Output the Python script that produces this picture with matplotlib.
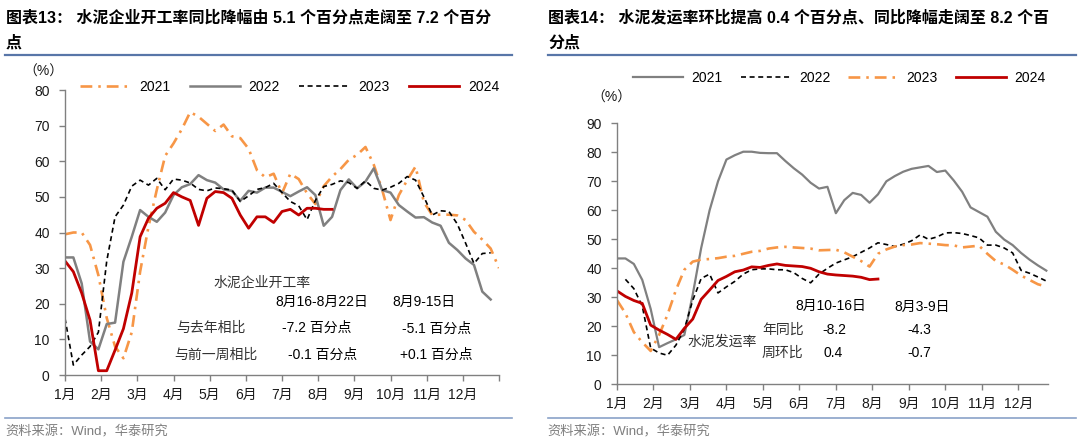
import numpy as np
import matplotlib
matplotlib.use('Agg')
import matplotlib.pyplot as plt

plt.rcParams['font.family'] = ['Liberation Sans', 'Noto Sans CJK SC']
plt.rcParams['lines.scale_dashes'] = False
plt.rcParams['axes.unicode_minus'] = False

months = ['1月', '2月', '3月', '4月', '5月', '6月', '7月', '8月', '9月', '10月', '11月', '12月']

# ---- Left chart: cement enterprise operating rate (%), weekly ----
left_2021 = [39.5, 40, 40, 36.5, 28, 16, 8, 4.7, 12, 29, 41.6, 52, 61.5, 65, 69, 73.8, 72.5, 70.5, 68.5, 70.3,
             67, 66.5, 63.5, 57.5, 55.5, 56.5, 51, 56.5, 55, 51, 48, 53, 55.7, 57.8, 60.4, 61.8, 64, 59, 52, 43.5,
             50.5, 54.7, 58.5, 48.5, 44.9, 45, 45, 44.8, 43.5, 40.2, 38, 35.5, 30]
left_2022 = [33, 33, 25.7, 9.4, 7.2, 14.3, 14.7, 31.8, 38.8, 46.3, 44.4, 43, 45.6, 50.5, 52.7, 53.6, 56.1, 54.7, 54, 52.1,
             51.7, 48.9, 51.7, 51.2, 52.6, 52.6, 51.4, 50.2, 51.5, 52.7, 50.5, 41.9, 44.4, 51.9, 54.9, 52.4, 54.3, 58, 51.9, 51.2,
             47.7, 45.9, 44.2, 44.3, 42.8, 41.9, 37.1, 35.1, 32.7, 30.9, 23.4, 21.2]
left_2023 = [15.9, 2.8, 5.6, 8, 12, 32, 44.4, 47.7, 53, 54.7, 53.3, 55.2, 52, 55, 54.7, 53.9, 52.1, 51.7, 52.5, 52.3,
             51.9, 48.7, 50.3, 52.1, 52.6, 53.8, 51.2, 48.7, 47.5, 43.6, 49, 52.9, 53.5, 54.5, 54, 52.4, 54.5, 52.4, 51.9, 52.7,
             53.8, 55.7, 54.7, 50, 44.9, 46.1, 45.9, 42.4, 37, 31.3, 34.1, 34.3]
left_2024 = [32, 29, 23, 15.4, 1.2, 1.2, 7, 13, 23, 38.8, 44, 46.8, 48.2, 51.2, 50, 49, 42, 49.6, 51.5, 51.2,
             49.6, 44.9, 41.2, 44.4, 44.4, 42.8, 45.9, 46.5, 44.9, 46.8, 46.8, 46.5, 46.5]

# ---- Right chart: cement shipment rate (%), weekly ----
right_2021 = [43.4, 43.4, 41.5, 36, 26, 12.8, 14.2, 15.5, 17, 31, 47, 60, 70, 77.5, 79, 80.2, 80.2, 79.8, 79.7, 79.7,
              77, 74.5, 72.3, 69.5, 67.5, 68.1, 59, 63.5, 66, 65.3, 62.6, 65.5, 70, 71.8, 73.3, 74.3, 74.8, 75.3, 73.2, 73.7,
              70.3, 66.4, 61, 59.4, 57.8, 52.6, 49.9, 48, 45.3, 43, 41, 39.2]
right_2022 = [np.nan, 36.2, 33, 27, 12.5, 10.8, 10, 13.5, 19, 29, 36.5, 38, 31.5, 33.6, 35.5, 38, 39.5, 39.8, 39.8, 39.5,
              39.5, 38.5, 36.5, 35, 38, 40, 41.8, 42.9, 44, 45.5, 47, 48.8, 48.2, 47.5, 48.3, 49.5, 51.5, 50, 50.8, 52.2,
              52.3, 52, 51.3, 50.5, 48, 48, 47, 45.3, 39.3, 38.3, 37, 35.6]
right_2023 = [29, 24.5, 18, 14.5, 11.5, 17, 24, 32.5, 39.5, 42.3, 43, 43.2, 43.5, 44, 44.3, 45, 45.7, 46, 46.8, 47.2,
              47.4, 47.2, 47, 46.8, 46.2, 46.3, 46.4, 45.5, 44, 42.5, 40.6, 45, 46.5, 47.5, 48, 48.2, 48.7, 48.5, 48.3, 48,
              47.9, 47.2, 47.5, 47.8, 45, 42.5, 41.3, 39.5, 37.5, 36, 34.5, 33.7]
right_2024 = [32.2, 30.3, 28.9, 27.9, 20.4, 18.7, 17.2, 15.5, 19.3, 22.5, 29.3, 32.5, 35.8, 37.2, 38.8, 39.4, 40.5, 40.3, 41, 41.5,
              41, 40.8, 40.6, 40, 38.8, 38, 37.7, 37.5, 37.3, 36.9, 36.1, 36.3]

ORANGE = '#F79646'
GRAY = '#808080'
RED = '#C00000'
BLACK = '#000000'
DASHDOT = (0, (8.5, 4.3, 1.8, 4.3))
DASHED = (0, (3.6, 2.6))

W, H = 1080, 444
fig = plt.figure(figsize=(W / 100, H / 100), dpi=100)


def fx(px):
    return px / W


def fy(py):
    return 1 - py / H


def style(ax, ymax, step):
    for s in ['top', 'right']:
        ax.spines[s].set_visible(False)
    for s in ['left', 'bottom']:
        ax.spines[s].set_color('#808080')
        ax.spines[s].set_linewidth(1)
    ax.tick_params(axis='both', colors='#808080', labelcolor='#1a1a1a', labelsize=10,
                   length=4, width=1, direction='out')
    ax.tick_params(axis='y', pad=7)
    ax.tick_params(axis='x', pad=5)
    ax.set_ylim(0, ymax)
    ax.set_yticks(range(0, ymax + 1, step))
    ax.patch.set_alpha(0)


wk_per_month = 52 / 12

# ---------------- Left axes ----------------
axL = fig.add_axes([fx(65), fy(375), fx(499) - fx(65), fy(90) - fy(375)])
style(axL, 80, 10)
l1, = axL.plot(np.arange(len(left_2021)), left_2021, color=ORANGE, lw=1.9, linestyle=DASHDOT)
l2, = axL.plot(np.arange(len(left_2022)), left_2022, color=GRAY, lw=1.8)
l3, = axL.plot(np.arange(len(left_2023)), left_2023, color=BLACK, lw=1.2, linestyle=DASHED)
l4, = axL.plot(np.arange(len(left_2024)), left_2024, color=RED, lw=2.0)
axL.set_xlim(0, 52)
axL.set_xticks([m * wk_per_month for m in range(13)])
axL.set_xticklabels(months + [''])
axL.legend([l1, l2, l3, l4], ['2021', '2022', '2023', '2024'], loc='center left',
           bbox_to_anchor=(fx(80), fy(87)), bbox_transform=fig.transFigure, ncol=4,
           frameon=False, fontsize=10, handlelength=3.6, handletextpad=0.65,
           columnspacing=1.4, borderpad=0, borderaxespad=0)

# ---------------- Right axes ----------------
axR = fig.add_axes([fx(617), fy(384.3), fx(1048) - fx(617), fy(123.3) - fy(384.3)])
style(axR, 90, 10)
r1, = axR.plot(np.arange(len(right_2021)), right_2021, color=GRAY, lw=1.6)
r2, = axR.plot(np.arange(len(right_2022)), right_2022, color=BLACK, lw=1.2, linestyle=DASHED)
r3, = axR.plot(np.arange(len(right_2023)), right_2023, color=ORANGE, lw=1.9, linestyle=DASHDOT)
r4, = axR.plot(np.arange(len(right_2024)), right_2024, color=RED, lw=2.0)
axR.set_xlim(0, 51.2)
axR.set_xticks([m * wk_per_month for m in range(12)])
axR.set_xticklabels(months)
axR.legend([r1, r2, r3, r4], ['2021', '2022', '2023', '2024'], loc='center left',
           bbox_to_anchor=(fx(633), fy(78)), bbox_transform=fig.transFigure, ncol=4,
           frameon=False, fontsize=10, handlelength=3.6, handletextpad=0.6,
           columnspacing=1.3, borderpad=0, borderaxespad=0)

# ---------------- Titles and rules ----------------
tkw = dict(fontsize=11.5, fontweight='bold', color='#000000', va='center', ha='left')
fig.text(fx(6), fy(18), '图表13： 水泥企业开工率同比降幅由 5.1 个百分点走阔至 7.2 个百分', **tkw)
fig.text(fx(6), fy(43), '点', **tkw)
fig.text(fx(548), fy(18), '图表14： 水泥发运率环比提高 0.4 个百分点、同比降幅走阔至 8.2 个百', **tkw)
fig.text(fx(548), fy(43), '分点', **tkw)

for x0, x1 in [(5, 512), (548, 1076)]:
    fig.add_artist(plt.Line2D([fx(x0), fx(x1)], [fy(55), fy(55)], color='#5876A8', lw=1.6,
                              transform=fig.transFigure))
    fig.add_artist(plt.Line2D([fx(x0), fx(x1)], [fy(418), fy(418)], color='#8AA2C8', lw=1.2,
                              transform=fig.transFigure))

skw = dict(fontsize=9.5, color='#7f7f7f', va='center', ha='left')
fig.text(fx(5), fy(432), '资料来源：Wind，华泰研究', **skw)
fig.text(fx(547), fy(432), '资料来源：Wind，华泰研究', **skw)

ukw = dict(fontsize=10, color='#1a1a1a', va='center', ha='center')
fig.text(fx(43), fy(72), '（%）', **ukw)
fig.text(fx(611), fy(98), '（%）', **ukw)

# ---------------- Annotations ----------------
akw = dict(fontsize=10, color='#333333', va='center', ha='left')
nkw = dict(fontsize=10, color='#000000', va='center', ha='left')
fig.text(fx(213), fy(283), '水泥企业开工率', **akw)
fig.text(fx(275), fy(302), '8月16-8月22日', **nkw)
fig.text(fx(392), fy(302), '8月9-15日', **nkw)
fig.text(fx(176), fy(328), '与去年相比', **akw)
fig.text(fx(282), fy(328), '-7.2 百分点', **nkw)
fig.text(fx(402), fy(329), '-5.1 百分点', **nkw)
fig.text(fx(174), fy(355), '与前一周相比', **akw)
fig.text(fx(288), fy(355), '-0.1 百分点', **nkw)
fig.text(fx(400), fy(355), '+0.1 百分点', **nkw)

fig.text(fx(687), fy(342), '水泥发运率', **akw)
fig.text(fx(795), fy(306), '8月10-16日', **nkw)
fig.text(fx(894), fy(307), '8月3-9日', **nkw)
fig.text(fx(762), fy(330), '年同比', **akw)
fig.text(fx(822), fy(330), '-8.2', **nkw)
fig.text(fx(907), fy(330), '-4.3', **nkw)
fig.text(fx(762), fy(353), '周环比', **akw)
fig.text(fx(824), fy(353), '0.4', **nkw)
fig.text(fx(907), fy(353), '-0.7', **nkw)

fig.savefig('out.png', dpi=100)
